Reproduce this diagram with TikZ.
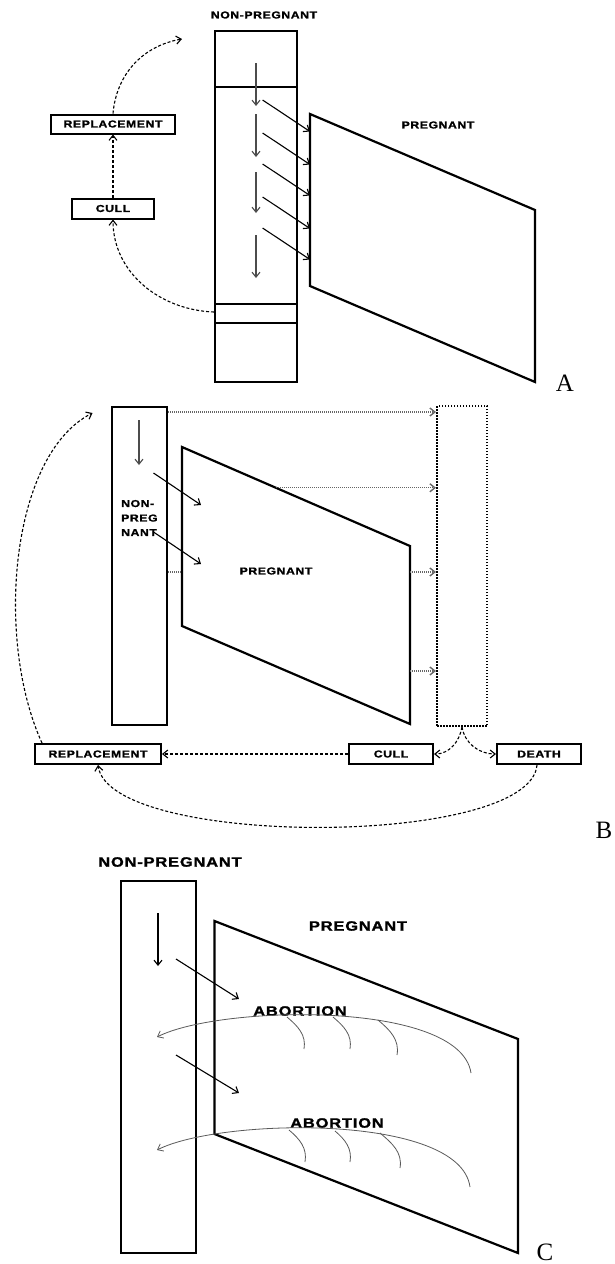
\documentclass[tikz,border=0pt]{standalone}
\usepackage{fontspec}
\usetikzlibrary{arrows.meta, positioning, calc}
\newfontfamily\lblfont[FakeStretch=1.22,LetterSpace=6,BoldFeatures={FakeBold=1.5}]{Liberation Sans}
\newfontfamily\panelfont{Liberation Serif}
\tikzset{
  herd/.style={rectangle, draw, line width=2pt, inner sep=0pt},
  stagebox/.style={rectangle, draw, line width=2pt, inner sep=0pt, minimum height=19pt,
                   font=\lblfont\bfseries\fontsize{10}{12}\selectfont},
  lbl/.style={inner sep=0pt, font=\lblfont\bfseries\fontsize{10}{14.5}\selectfont},
  biglbl/.style={inner sep=0pt, font=\lblfont\bfseries\fontsize{13.5}{15}\selectfont},
  panel/.style={inner sep=0pt, font=\panelfont\fontsize{25}{25}\selectfont},
  plane/.style={line width=2.2pt, line join=miter},
  flow/.style={-{Straight Barb[length=5pt,width=8pt]}, line width=1.1pt},
  ghost/.style={flow, draw=gray!60!black},
  recycle/.style={-{Straight Barb[length=5pt,width=8pt]}, line width=1.1pt, dash pattern=on 3pt off 2pt},
  leak/.style={-{Straight Barb[length=5pt,width=8pt]}, line width=1.4pt, draw=black!60, dash pattern=on 1pt off 1pt},
  abort/.style={-{Straight Barb[length=5pt,width=8pt]}, line width=0.8pt, draw=gray!70!black},
}

\begin{document}
\begin{tikzpicture}[x=1pt, y=-1pt]
  \useasboundingbox (0,0) rectangle (615,1264);

  % ── Panel A ───────────────────────────────────────────────────────────
  \node[herd, minimum width=82, minimum height=351] (npA) at (256,206.5) {};
  \node[lbl] (npAlbl) at (264,15) {NON-PREGNANT};
  \foreach \dy in {57,274,293}
    \draw[line width=1.4pt] ([yshift=-\dy pt]npA.north west) -- ([yshift=-\dy pt]npA.north east);

  \foreach \ys/\ye in {63/106,114/157,172/213,235/278}
    \draw[ghost] (256,\ys) -- (256,\ye);

  \coordinate (pgA1) at (310,114);
  \coordinate (pgA2) at (535,210);
  \coordinate (pgA3) at (535,382);
  \coordinate (pgA4) at (310,286);
  \draw[plane] (pgA1) -- (pgA2) -- (pgA3) -- (pgA4) -- cycle;
  \node[lbl] (pgAlbl) at (438,125) {PREGNANT};

  \foreach \y in {100,133,164,197,228}
    \draw[flow] (262.6,\y) -- (310,\y+31.5);

  \node[stagebox, minimum width=124] (replA) at (113,124) {REPLACEMENT};
  \node[stagebox, minimum width=82, minimum height=20, below=63pt of replA] (cullA) {CULL};
  \coordinate (retA) at (182,39);

  \draw[recycle] (cullA) -- (replA);
  \draw[recycle] (replA.north) to[out=85,in=190] (retA);
  \draw[recycle] ([yshift=-282pt]npA.north west) to[out=178,in=-90] (cullA.south);

  \node[panel] (tagA) at (565,383) {A};

  % ── Panel B ───────────────────────────────────────────────────────────
  \node[herd, minimum width=55, minimum height=318] (npB) at (139.5,566) {};
  \node[herd, minimum width=50, minimum height=320, dash pattern=on 1.5pt off 1.5pt] (dropB) at (462,566) {};
  \draw[ghost] (139,420) -- (139,465);

  \coordinate (pgB1) at (182,447);
  \coordinate (pgB2) at (410,546);
  \coordinate (pgB3) at (410,724);
  \coordinate (pgB4) at (182,626);
  \draw[plane] (pgB1) -- (pgB2) -- (pgB3) -- (pgB4) -- cycle;
  \node[lbl] (pgBlbl) at (276,571) {PREGNANT};
  \node[lbl, align=left, anchor=west] (npBlbl) at (121,518) {NON-\\PREG\\NANT};

  \foreach \y in {473,532}
    \draw[flow] (153.5,\y) -- (201,\y+32);

  % losses towards the exit column
  \coordinate (lk2) at ($(pgB1)!0.412!(pgB2)$);
  \coordinate (lk3) at ($(pgB2)!0.146!(pgB3)$);
  \coordinate (lk4) at ($(pgB2)!0.702!(pgB3)$);
  \draw[leak] ([yshift=-6pt]npB.north east) -- ([yshift=-7pt]dropB.north west);
  \draw[leak] (lk2) -- (lk2 -| dropB.west);
  \draw[leak] (lk3) -- (lk3 -| dropB.west);
  \draw[leak] (lk4) -- (lk4 -| dropB.west);
  \draw[leak, -] (lk3 -| npB.east) -- (lk3 -| pgB1);

  \node[stagebox, minimum width=126, minimum height=20] (replB) at (98,754) {REPLACEMENT};
  \node[stagebox, minimum width=84, minimum height=20, right=186pt of replB] (cullB) {CULL};
  \node[stagebox, minimum width=84, minimum height=20, right=62pt of cullB] (deathB) {DEATH};
  \coordinate (retB) at (92.5,413);

  \draw[recycle] (cullB) -- (replB);
  \draw[recycle] (dropB.south) to[out=-100,in=0] (cullB.east);
  \draw[recycle] (dropB.south) to[out=-80,in=180] (deathB.west);
  \draw[recycle] ([xshift=8pt]replB.north west) .. controls (-5,640) and (10,455) .. (retB);
  \draw[recycle] ([xshift=-2pt]deathB.south) .. controls (530,848) and (110,848) .. (replB.south);

  \node[panel] (tagB) at (604,830) {B};

  % ── Panel C ───────────────────────────────────────────────────────────
  \node[herd, minimum width=75, minimum height=372] (npC) at (158.5,1067) {};
  \node[biglbl] (npClbl) at (170,862) {NON-PREGNANT};
  \draw[flow] (158,913) -- (158,966);

  \coordinate (pgC1) at (214.5,921);
  \coordinate (pgC2) at (518,1039);
  \coordinate (pgC3) at (518,1253);
  \coordinate (pgC4) at (214.5,1134);
  \draw[plane] (pgC1) -- (pgC2) -- (pgC3) -- (pgC4) -- cycle;
  \node[biglbl] (pgClbl) at (358,926) {PREGNANT};

  \draw[flow] (176,959) -- (239,999);
  \draw[flow] (176,1055) -- (239,1093);

  \node[biglbl] (abC1) at (300,1011) {ABORTION};
  \node[biglbl] (abC2) at (337,1123) {ABORTION};

  \coordinate (arcC1) at (471,1073);
  \coordinate (retC1) at (157,1037);
  \coordinate (arcC2) at (470,1187);
  \coordinate (retC2) at (157,1150);
  \draw[abort] (arcC1) .. controls (460,1000) and (220,1005) .. (retC1);
  \draw[abort] (arcC2) .. controls (460,1113) and (220,1118) .. (retC2);
  \foreach \hx/\hy/\dx/\dy in {287/1017/17/32, 333/1017/17/32, 378/1020/19/35,
                               289/1130/16/32, 335/1131/15/31, 380/1133/20/35}
    \draw[abort, -] (\hx,\hy) to[out=-40,in=80] ++(\dx,\dy);

  \node[panel] (tagC) at (545,1252) {C};
\end{tikzpicture}
\end{document}
